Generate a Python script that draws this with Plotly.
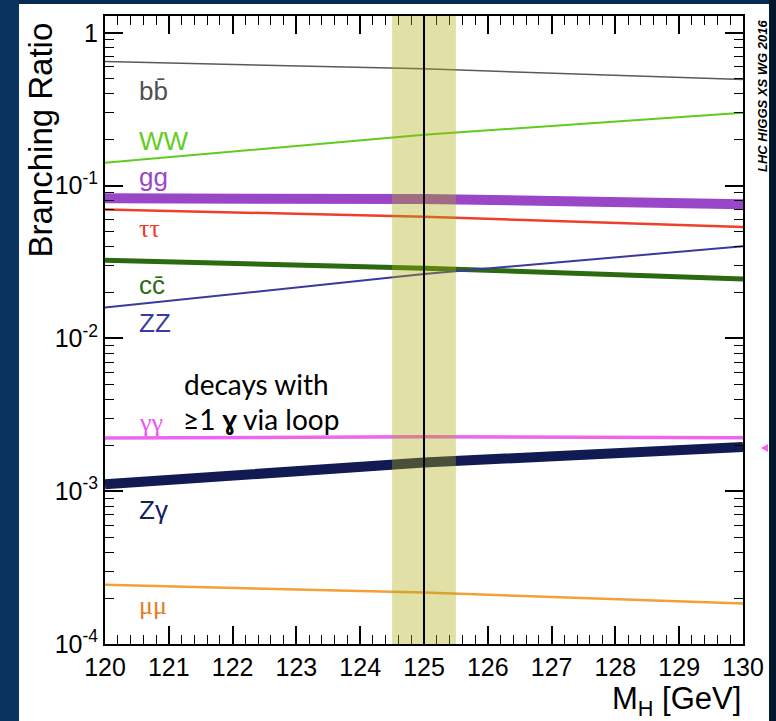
import plotly.graph_objects as go

# ---- data ----
mass = [120, 125, 130]
br_bb = [0.648, 0.581, 0.494]
br_ww = [0.141, 0.215, 0.300]
br_gg = [0.0825, 0.0818, 0.0755]
br_tautau = [0.0698, 0.0626, 0.0535]
br_cc = [0.0325, 0.0288, 0.0245]
br_zz = [0.0159, 0.0264, 0.0401]
br_gamgam = [0.00223, 0.00227, 0.00224]
br_zgam = [0.00111, 0.00154, 0.00195]
br_mumu = [0.000244, 0.000217, 0.000184]

band_lo, band_hi, mh_ref = 124.5, 125.5, 125.0

x_ticks = list(range(120, 131))
y_tickvals = [1e-4, 1e-3, 1e-2, 1e-1, 1]
y_ticktext = ["10<sup>-4</sup>", "10<sup>-3</sup>", "10<sup>-2</sup>", "10<sup>-1</sup>", "1"]
y_minor = [m * d for d in [1e-4, 1e-3, 1e-2, 1e-1, 1] for m in range(2, 10)]

series = [
    ("bb", br_bb, "#5a5a5a", 1.5),
    ("WW", br_ww, "#5fcc1e", 2),
    ("gg", br_gg, "#9a46c9", 10),
    ("tautau", br_tautau, "#ef3e2c", 2.5),
    ("cc", br_cc, "#2c6a10", 5),
    ("ZZ", br_zz, "#3b3a9c", 2),
    ("gamgam", br_gamgam, "#ee66ee", 3.5),
    ("Zgam", br_zgam, "#111a52", 10),
    ("mumu", br_mumu, "#f5a036", 2.5),
]

fig = go.Figure()
for name, vals, col, w in series:
    fig.add_trace(go.Scatter(x=mass, y=vals, mode="lines", name=name,
                             line=dict(color=col, width=w), showlegend=False,
                             hoverinfo="skip"))

W, H = 776, 721
L, R, T, B = 105, 33, 16, 77
pw, ph = W - L - R, H - T - B

def px(xp):
    return (xp - L) / pw

def py(yp):
    return (H - B - yp) / ph

shapes = [
    dict(type="rect", xref="paper", yref="paper", x0=px(-5), x1=px(W + 5), y0=py(H + 5), y1=py(-5),
         fillcolor="#062a52", line_width=0, layer="below"),
    dict(type="rect", xref="paper", yref="paper", x0=px(-5), x1=px(19), y0=py(H + 5), y1=py(-5),
         fillcolor="#0a3360", line_width=0, layer="below"),
    dict(type="rect", xref="paper", yref="paper", x0=px(769), x1=px(W + 5), y0=py(H + 5), y1=py(-5),
         fillcolor="#02172e", line_width=0, layer="below"),
    dict(type="rect", xref="paper", yref="paper", x0=px(19), x1=px(769), y0=py(H + 5), y1=py(4),
         fillcolor="white", line_width=0, layer="below"),
    # fragment of a neighbouring slide element at the right edge
    dict(type="path", xref="paper", yref="paper",
         path=f"M {px(761)} {py(448)} L {px(768)} {py(444)} L {px(768)} {py(452)} Z",
         fillcolor="#ee66ee", line_width=0, layer="below"),
    dict(type="rect", xref="x", yref="paper", x0=band_lo, x1=band_hi, y0=0, y1=1,
         fillcolor="rgba(172,172,16,0.37)", line_width=0, layer="above"),
    dict(type="line", xref="x", yref="paper", x0=mh_ref, x1=mh_ref, y0=0, y1=1,
         line=dict(color="black", width=2), layer="above"),
]

sans = "Liberation Sans"
labels = [
    ("bb\u0304", 91, "#505050"),
    ("WW", 141, "#63cc20"),
    ("gg", 177, "#9a46c9"),
    ("<span style='font-family:Liberation Serif'>ττ</span>", 228, "#ee3a28"),
    ("cc\u0304", 285, "#2f6a12"),
    ("ZZ", 323, "#3b3aa0"),
    ("<span style='font-family:Liberation Serif'>γγ</span>", 422, "#ee55ee"),
    ("Zγ", 510, "#15205a"),
    ("<span style='font-family:Liberation Serif'>μμ</span>", 605, "#e87a20"),
]
annotations = []
for txt, yp, col in labels:
    annotations.append(dict(text=txt, x=px(137), y=py(yp), xref="paper", yref="paper",
                            xanchor="left", yanchor="middle", showarrow=False,
                            font=dict(family=sans, size=26, color=col)))

annotations += [
    dict(text="decays with", x=px(182), y=py(384), xref="paper", yref="paper",
         xanchor="left", yanchor="middle", showarrow=False,
         font=dict(family="Lato", size=28, color="black")),
    dict(text="≥1 <b>ɣ</b> via loop", x=px(181), y=py(419), xref="paper", yref="paper",
         xanchor="left", yanchor="middle", showarrow=False,
         font=dict(family="Lato", size=28, color="black")),
    dict(text="Branching Ratio", x=px(40), y=py(21), xref="paper", yref="paper",
         xanchor="center", yanchor="top", textangle=-90, showarrow=False,
         font=dict(family=sans, size=33, color="black")),
    dict(text="M<sub>H</sub> [GeV]", x=px(743), y=py(701), xref="paper", yref="paper",
         xanchor="right", yanchor="middle", showarrow=False,
         font=dict(family=sans, size=31, color="black")),
    dict(text="<b><i>LHC HIGGS XS WG 2016</i></b>", x=px(762), y=py(18), xref="paper", yref="paper",
         xanchor="center", yanchor="top", textangle=-90, showarrow=False,
         font=dict(family=sans, size=13, color="black")),
]

fig.update_layout(
    width=W, height=H, autosize=False,
    margin=dict(l=L, r=R, t=T, b=B, pad=0),
    paper_bgcolor="#062a52", plot_bgcolor="white",
    shapes=shapes, annotations=annotations,
    xaxis=dict(range=[120, 130], tickvals=x_ticks, ticks="inside", ticklen=18, tickwidth=1.5,
               tickcolor="black", mirror="allticks", showline=True, linecolor="black", linewidth=2,
               showgrid=False, zeroline=False,
               tickfont=dict(family=sans, size=25, color="black"),
               minor=dict(ticks="inside", ticklen=9, dtick=0.2, tickcolor="black", tickwidth=1.2, showgrid=False)),
    yaxis=dict(type="log", range=[-4, 0.11], tickvals=y_tickvals, ticktext=y_ticktext,
               ticks="inside", ticklen=18, tickwidth=1.5, tickcolor="black", mirror="allticks",
               showline=True, linecolor="black", linewidth=2, showgrid=False, zeroline=False,
               tickfont=dict(family=sans, size=25, color="black"),
               minor=dict(ticks="inside", ticklen=9, tickvals=y_minor, tickcolor="black", tickwidth=1.2, showgrid=False)),
)

fig.write_html("out.html")
